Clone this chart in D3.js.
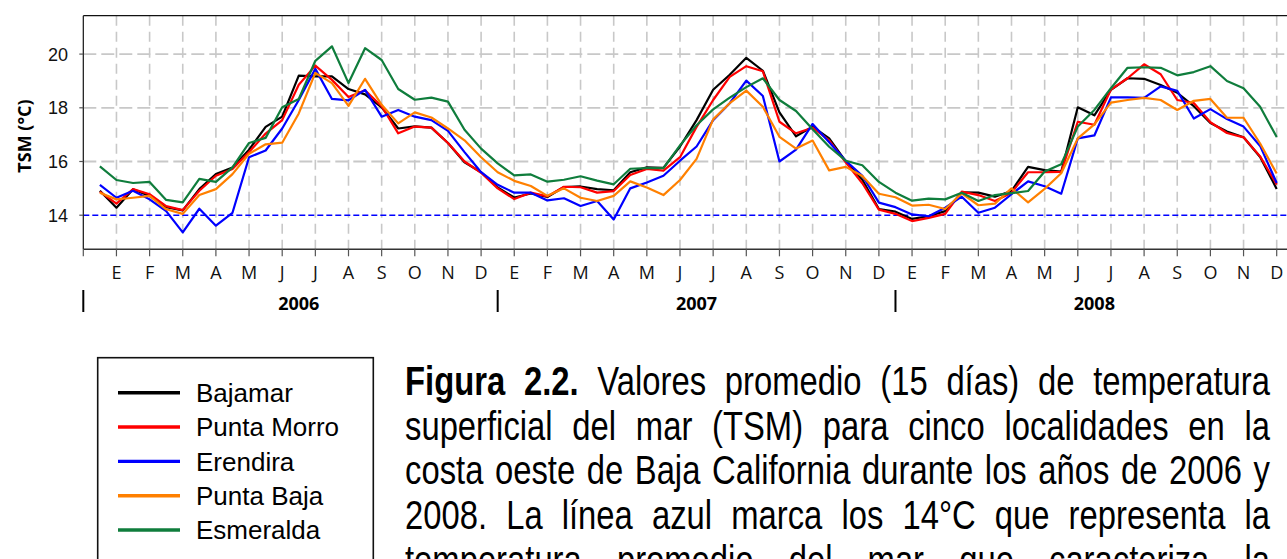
<!DOCTYPE html>
<html><head><meta charset="utf-8">
<script src="https://cdn.jsdelivr.net/npm/d3@7"></script>
<style>html,body{margin:0;padding:0;background:#fff;overflow:hidden}svg{display:block}</style>
</head><body>
<svg id="c" width="1287" height="559"></svg>
<script>
// ---------- data ----------
const months = ["E","F","M","A","M","J","J","A","S","O","N","D"];
const years = ["2006","2007","2008"];
const yTicks = [14,16,18,20];
const refTemp = 14;
const seriesNames = ["Bajamar","Punta Morro","Erendira","Punta Baja","Esmeralda"];
// 15-day means, 24 per year (Jan 2006 - Dec 2008)
const bajamar = [
14.91,14.28,14.97,14.72,14.30,14.18,14.97,15.53,15.78,16.44,17.29,17.67,19.20,19.17,
19.17,18.70,18.50,18.02,17.23,17.31,17.26,16.69,15.97,15.60,15.03,14.66,14.81,14.68,15.05,
15.07,14.97,14.93,15.60,15.78,15.76,16.56,17.54,18.67,19.23,19.86,19.38,17.83,16.94,
17.30,16.86,16.00,15.32,14.23,14.13,13.86,13.96,14.15,14.85,14.84,14.69,14.90,15.80,15.68,
15.62,18.02,17.72,18.67,19.10,19.08,18.85,18.56,18.06,17.43,17.12,16.90,16.17,14.98];
const puntaMorro = [
14.88,14.43,14.97,14.78,14.34,14.19,14.91,15.47,15.72,16.35,17.04,17.54,18.86,19.57,
19.04,18.40,18.65,18.06,17.05,17.30,17.26,16.69,16.00,15.58,15.00,14.60,14.84,14.70,15.06,
15.04,14.84,14.90,15.50,15.72,15.66,16.16,17.29,18.29,19.15,19.55,19.36,17.48,17.05,
17.26,16.79,15.97,15.19,14.21,14.05,13.78,13.90,14.05,14.88,14.75,14.53,14.84,15.60,15.60,
15.61,17.48,17.37,18.68,19.10,19.62,19.25,18.29,18.18,17.46,17.06,16.90,16.19,15.14];
const erendira = [
15.13,14.65,14.91,14.59,14.15,13.36,14.24,13.61,14.09,16.16,16.41,17.23,18.29,19.45,
18.33,18.28,18.67,17.67,17.92,17.67,17.54,17.14,16.35,15.60,15.13,14.84,14.84,14.55,14.63,
14.34,14.53,13.84,15.00,15.22,15.47,16.03,16.56,17.54,18.17,19.01,18.44,16.00,16.44,
17.40,16.72,16.03,15.47,14.47,14.30,14.03,13.96,14.28,14.69,14.09,14.28,14.78,15.26,15.08,
14.80,16.86,16.97,18.39,18.39,18.37,18.80,18.63,17.60,17.95,17.58,17.30,16.58,15.20];
const puntaBaja = [
14.84,14.59,14.65,14.72,14.22,14.05,14.75,14.97,15.53,16.29,16.64,16.70,17.79,19.30,
18.92,18.07,19.08,18.11,17.42,17.83,17.64,17.23,16.79,16.16,15.60,15.28,15.09,14.72,15.00,
14.65,14.53,14.72,15.26,15.03,14.75,15.31,16.10,17.57,18.17,18.64,18.04,16.92,16.48,
16.78,15.67,15.80,15.46,14.80,14.67,14.36,14.39,14.23,14.81,14.37,14.43,15.00,14.48,14.98,
15.56,16.86,17.38,18.19,18.29,18.37,18.29,17.92,18.26,18.33,17.63,17.63,16.67,15.55];
const esmeralda = [
15.82,15.31,15.20,15.24,14.57,14.48,15.35,15.24,15.78,16.69,16.88,18.02,18.33,19.75,
20.29,18.92,20.22,19.78,18.70,18.30,18.38,18.23,17.18,16.48,15.93,15.48,15.52,15.25,15.32,
15.45,15.29,15.15,15.73,15.75,15.75,16.60,17.35,17.94,18.38,18.77,19.10,18.29,17.88,
17.20,16.55,16.03,15.86,15.24,14.84,14.54,14.62,14.59,14.84,14.53,14.75,14.82,14.90,15.63,
15.90,17.30,17.92,18.73,19.49,19.51,19.49,19.21,19.33,19.55,19.00,18.73,18.04,16.91];
const seriesValues = [bajamar, puntaMorro, erendira, puntaBaja, esmeralda];
const seriesColors = ["#000000","#ff0000","#0000ff","#ff8000","#0f7d3c"];

const captionLines = [
  [["Figura",1],["2.2.",1],["Valores",0],["promedio",0],["(15",0],["días)",0],["de",0],["temperatura",0]],
  [["superficial",0],["del",0],["mar",0],["(TSM)",0],["para",0],["cinco",0],["localidades",0],["en",0],["la",0]],
  [["costa",0],["oeste",0],["de",0],["Baja",0],["California",0],["durante",0],["los",0],["años",0],["de",0],["2006",0],["y",0]],
  [["2008.",0],["La",0],["línea",0],["azul",0],["marca",0],["los",0],["14°C",0],["que",0],["representa",0],["la",0]],
  [["temperatura",0],["promedio",0],["del",0],["mar",0],["que",0],["caracteriza",0],["la",0]]
];

// ---------- layout ----------
const svg = d3.select("#c");
const L = 83.3, T = 15.7, B = 249.3, Rend = 1287;
const x = d3.scaleLinear().domain([0, 36]).range([L, 1276.7]);
const y = d3.scaleLinear().domain([12.73, 21.43]).range([B, T]);

// grid
const grid = svg.append("g");
grid.selectAll("line.v").data(d3.range(1, 37)).join("line")
  .attr("x1", d => x(d)).attr("x2", d => x(d)).attr("y1", T).attr("y2", B)
  .attr("stroke", "#c8c8c8").attr("stroke-width", 1.6).attr("stroke-dasharray", "10,6");
grid.selectAll("line.h").data(yTicks.filter(v => v !== refTemp)).join("line")
  .attr("x1", L).attr("x2", Rend).attr("y1", d => y(d)).attr("y2", d => y(d))
  .attr("stroke", "#c8c8c8").attr("stroke-width", 1.8).attr("stroke-dasharray", "13,5");

// reference line 14°C
svg.append("line").attr("x1", L).attr("x2", Rend).attr("y1", y(refTemp)).attr("y2", y(refTemp))
  .attr("stroke", "#0000ff").attr("stroke-width", 1.5).attr("stroke-dasharray", "6,3");

// frame
svg.append("line").attr("x1", L).attr("x2", Rend).attr("y1", T).attr("y2", T).attr("stroke", "#111").attr("stroke-width", 1.2);
svg.append("line").attr("x1", L).attr("x2", L).attr("y1", T).attr("y2", B).attr("stroke", "#111").attr("stroke-width", 1.2);
svg.append("line").attr("x1", L).attr("x2", Rend).attr("y1", B).attr("y2", B).attr("stroke", "#333").attr("stroke-width", 1.6);

// x ticks
svg.append("g").selectAll("line").data(d3.range(0, 37)).join("line")
  .attr("x1", d => x(d)).attr("x2", d => x(d)).attr("y1", B).attr("y2", B + 7)
  .attr("stroke", "#555").attr("stroke-width", 1.2);
// y ticks
svg.append("g").selectAll("line").data(yTicks).join("line")
  .attr("x1", L - 4).attr("x2", L).attr("y1", d => y(d)).attr("y2", d => y(d))
  .attr("stroke", "#555").attr("stroke-width", 1.2);
svg.append("g").selectAll("text").data(yTicks).join("text")
  .attr("x", 68).attr("y", d => y(d) + 6.5).attr("text-anchor", "end")
  .style("font-family", "'Liberation Sans', Arial, sans-serif").style("font-size", "18px").attr("fill", "#111")
  .text(d => d);

// month labels
svg.append("g").selectAll("text").data(d3.range(1, 37)).join("text")
  .attr("x", d => x(d)).attr("y", 278.5).attr("text-anchor", "middle")
  .style("font-family", "'Open Sans', sans-serif").style("font-size", "18px").attr("fill", "#111")
  .text(d => months[(d - 1) % 12]);

// years
svg.append("g").selectAll("text").data(years).join("text")
  .attr("x", (d, i) => x(6.5 + 12 * i)).attr("y", 310).attr("text-anchor", "middle")
  .style("font-family", "'Open Sans', sans-serif").style("font-size", "18px").style("font-weight", "bold")
  .text(d => d);
svg.append("g").selectAll("line").data([0, 12.5, 24.5]).join("line")
  .attr("x1", d => x(d)).attr("x2", d => x(d)).attr("y1", 290).attr("y2", 312)
  .attr("stroke", "#000").attr("stroke-width", 2);

// y title
svg.append("text").attr("transform", "translate(31,136) rotate(-90)").attr("text-anchor", "middle")
  .style("font-family", "'Open Sans', sans-serif").style("font-size", "18px").style("font-weight", "bold")
  .text("TSM (°C)");

// series
const line = d3.line().x((d, i) => x((i + 1) / 2)).y(d => y(d));
svg.append("g").selectAll("path").data(seriesValues).join("path")
  .attr("d", d => line(d)).attr("fill", "none")
  .attr("stroke", (d, i) => seriesColors[i]).attr("stroke-width", 2.2).attr("stroke-linejoin", "round");

// legend
const lg = svg.append("g");
lg.append("rect").attr("x", 97.7).attr("y", 357.7).attr("width", 275.6).attr("height", 300)
  .attr("fill", "none").attr("stroke", "#111").attr("stroke-width", 1.6);
const ly = d3.scaleLinear().domain([0, 4]).range([392.7, 530]);
seriesNames.forEach((n, i) => {
  lg.append("line").attr("x1", 118).attr("x2", 180).attr("y1", ly(i)).attr("y2", ly(i))
    .attr("stroke", seriesColors[i]).attr("stroke-width", 3.4);
  lg.append("text").attr("x", 196).attr("y", ly(i) + 9.2)
    .style("font-family", "'Liberation Sans', Arial, sans-serif").style("font-size", "26px").attr("fill", "#000")
    .text(n);
});

// caption, justified
const capX = 405, capW = 865, sx = 0.82, capFont = 40;
captionLines.forEach((words, li) => {
  const g = svg.append("g").attr("transform", `translate(${capX},${395 + li * 44.7}) scale(${sx},1)`);
  const els = words.map(([w, b]) => g.append("text").text(w)
    .style("font-family", "'Liberation Sans', Arial, sans-serif").style("font-size", capFont + "px")
    .style("font-weight", b ? "bold" : "normal").attr("fill", "#000"));
  const widths = els.map(e => e.node().getComputedTextLength());
  const avail = capW / sx;
  const gap = (avail - d3.sum(widths)) / (words.length - 1);
  let cx = 0;
  els.forEach((e, i) => { e.attr("x", cx); cx += widths[i] + gap; });
});
</script>
</body></html>
